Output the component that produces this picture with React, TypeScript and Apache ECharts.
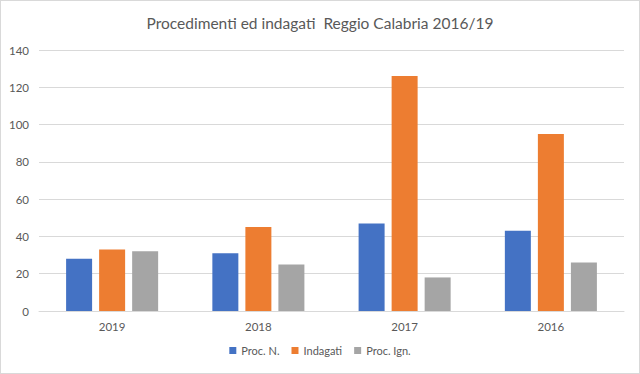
import React, { useEffect, useRef } from "react";
import * as echarts from "echarts";

const categories = ["2019", "2018", "2017", "2016"];
const procN = [28, 31, 47, 43];
const indagati = [33, 45, 126, 95];
const procIgn = [32, 25, 18, 26];
const seriesNames = ["Proc. N.", "Indagati", "Proc. Ign."];

export default function App() {
  const ref = useRef<HTMLDivElement>(null);
  useEffect(() => {
    if (!ref.current) return;
    const chart = echarts.init(ref.current, null, { renderer: "svg" });
    const font = "Lato";
    chart.setOption({
      animation: false,
      backgroundColor: "#ffffff",
      color: ["#4472C4", "#ED7D31", "#A5A5A5"],
      title: {
        text: "Procedimenti ed indagati  Reggio Calabria 2016/19",
        left: "center",
        top: 9,
        textStyle: { fontFamily: font, fontSize: 15.5, fontWeight: "normal", color: "#595959" },
      },
      legend: {
        bottom: 12,
        left: "center",
        itemWidth: 7,
        itemHeight: 7,
        itemGap: 12,
        icon: "rect",
        textStyle: { fontFamily: font, fontSize: 11, color: "#595959" },
        data: seriesNames,
      },
      grid: { left: 38, right: 15, top: 49, bottom: 62, containLabel: false },
      xAxis: {
        type: "category",
        data: categories,
        axisLine: { lineStyle: { color: "#D9D9D9" } },
        axisTick: { show: false },
        axisLabel: { fontFamily: font, fontSize: 11.5, color: "#595959", margin: 9 },
      },
      yAxis: {
        type: "value",
        min: 0,
        max: 140,
        interval: 20,
        axisLine: { show: false },
        axisTick: { show: false },
        splitLine: { lineStyle: { color: "#D9D9D9" } },
        axisLabel: { fontFamily: font, fontSize: 11.5, color: "#595959", margin: 10 },
      },
      series: [
        { name: seriesNames[0], type: "bar", data: procN, barWidth: 26, barGap: "27%" },
        { name: seriesNames[1], type: "bar", data: indagati, barWidth: 26, barGap: "27%" },
        { name: seriesNames[2], type: "bar", data: procIgn, barWidth: 26, barGap: "27%" },
      ],
    });
    return () => chart.dispose();
  }, []);
  return (
    <div
      ref={ref}
      style={{
        position: "fixed",
        left: 0,
        top: 0,
        width: 640,
        height: 374,
        boxSizing: "border-box",
        border: "1px solid #D9D9D9",
      }}
    />
  );
}
